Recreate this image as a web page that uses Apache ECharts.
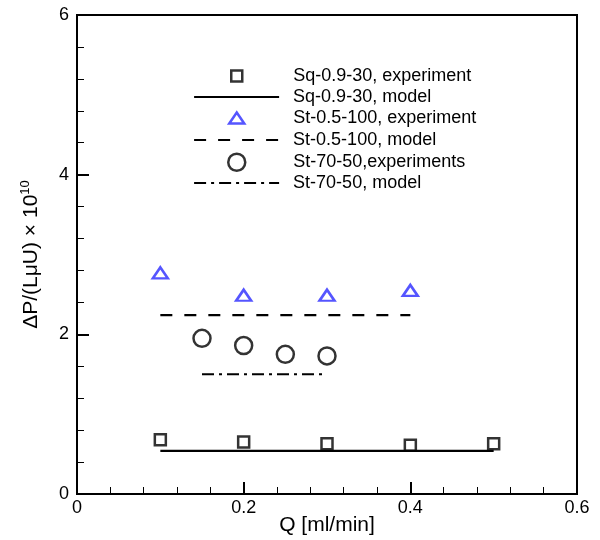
<!DOCTYPE html>
<html>
<head>
<meta charset="utf-8">
<script src="https://cdn.jsdelivr.net/npm/echarts@6/dist/echarts.min.js"></script>
<style>
  html, body { margin: 0; background: #fff; }
  #main { width: 600px; height: 540px; }
</style>
</head>
<body>
<div id="main"></div>
<script>
// values
const sqX = [0.1, 0.2, 0.3, 0.4, 0.5]
const sqY = [0.68, 0.65, 0.63, 0.61, 0.63]
const sqModelX = [0.1, 0.5]
const sqModelY = [0.54, 0.54]
const stX = [0.1, 0.2, 0.3, 0.4]
const stY = [2.77, 2.49, 2.49, 2.55]
const stModelX = [0.1, 0.4]
const stModelY = [2.24, 2.24]
const st70X = [0.15, 0.2, 0.25, 0.3]
const st70Y = [1.95, 1.86, 1.75, 1.73]
const st70ModelX = [0.15, 0.3]
const st70ModelY = [1.5, 1.5]
const names = [
    'Sq-0.9-30, experiment',
    'Sq-0.9-30, model',
    'St-0.5-100, experiment',
    'St-0.5-100, model',
    'St-70-50,experiments',
    'St-70-50, model'
]

const FONT = '"Liberation Sans", Arial, sans-serif'
const BLUE = '#2a2aff'
const LW = 2.5

function pts(xs, ys) {
    return xs.map((x, i) => [x, ys[i]])
}

// legend: one small legend per row so each icon sits where it does in the picture
const rowY = [76, 97, 118, 140, 162, 183]
const iconMid = 236.5
const textX = 293
const rows = [
    { w: 11, h: 11, sym: true, stroke: '#000' },
    { w: 85, h: 14, dash: 'solid' },
    { w: 15, h: 11, sym: true, stroke: BLUE },
    { w: 85, h: 14, dash: [12, 12] },
    { w: 17, h: 17, sym: true, stroke: '#000' },
    { w: 85, h: 14, dash: [12, 5, 3, 5] }
]
let legends = rows.map((r, i) => {
    let left, pad, item
    if (r.sym) {
        left = iconMid - r.w / 2 - 1
        pad = textX - (iconMid + r.w / 2 + 5)
        item = {
            name: names[i],
            itemStyle: { color: 'transparent', borderColor: r.stroke, borderWidth: LW }
        }
    } else {
        left = 193
        pad = textX - (194 + r.w + 5)
        item = {
            name: names[i],
            itemStyle: { color: 'transparent', borderWidth: 0, opacity: 0 },
            lineStyle: { color: '#000', width: 2.2, type: r.dash }
        }
    }
    return {
        data: [item],
        left: left,
        top: rowY[i] - Math.max(r.h + 2, 18) / 2,
        padding: 0,
        itemWidth: r.w,
        itemHeight: r.h,
        selectedMode: false,
        textStyle: {
            fontFamily: FONT, fontSize: 18, lineHeight: 18, color: '#000',
            padding: [0, 0, 0, pad]
        }
    }
})

var myChart = echarts.init(document.getElementById('main'))
var option = {
    animation: false,
    backgroundColor: '#fff',
    legend: legends,
    grid: {
        left: 77, right: 23, top: 15, bottom: 46,
        outerBoundsMode: 'none',
        show: true, borderColor: '#000', borderWidth: 2
    },
    xAxis: {
        type: 'value',
        min: 0, max: 0.6, interval: 0.2,
        name: 'Q [ml/min]',
        nameLocation: 'middle',
        nameGap: 21,
        nameMoveOverlap: false,
        nameTextStyle: { fontFamily: FONT, fontSize: 21, color: '#000' },
        axisLine: { lineStyle: { color: '#000', width: 2 } },
        axisTick: { inside: true, length: 12, lineStyle: { color: '#000', width: 2 } },
        minorTick: { show: true, splitNumber: 5, length: 7, lineStyle: { color: '#000', width: 1 } },
        axisLabel: { fontFamily: FONT, fontSize: 18, color: '#000', margin: 5 },
        splitLine: { show: false }
    },
    yAxis: {
        type: 'value',
        min: 0, max: 6, interval: 2,
        name: '{a|ΔP/(LμU) × 10}{s|10}',
        nameLocation: 'middle',
        nameGap: 34,
        nameMoveOverlap: false,
        nameTextStyle: {
            fontFamily: FONT, color: '#000',
            rich: {
                a: { fontFamily: FONT, fontSize: 21, lineHeight: 24, color: '#000' },
                s: { fontFamily: FONT, fontSize: 13, lineHeight: 24, verticalAlign: 'top', color: '#000' }
            }
        },
        axisLine: { lineStyle: { color: '#000', width: 2 } },
        axisTick: { inside: true, length: 12, lineStyle: { color: '#000', width: 2 } },
        minorTick: { show: true, splitNumber: 5, length: 7, lineStyle: { color: '#000', width: 1 } },
        axisLabel: { fontFamily: FONT, fontSize: 18, color: '#000', margin: 8 },
        splitLine: { show: false }
    },
    series: [
        {
            name: names[0], type: 'scatter', symbol: 'rect', symbolSize: 11,
            itemStyle: { color: 'transparent', borderColor: '#000', borderWidth: LW },
            data: pts(sqX, sqY)
        },
        {
            name: names[1], type: 'line', showSymbol: false, symbol: 'none',
            lineStyle: { color: '#000', width: 2.2, type: 'solid' },
            data: pts(sqModelX, sqModelY)
        },
        {
            name: names[2], type: 'scatter', symbol: 'triangle', symbolSize: [15, 11],
            itemStyle: { color: 'transparent', borderColor: BLUE, borderWidth: LW },
            data: pts(stX, stY)
        },
        {
            name: names[3], type: 'line', showSymbol: false, symbol: 'none',
            lineStyle: { color: '#000', width: 2.2, type: [12, 12] },
            data: pts(stModelX, stModelY)
        },
        {
            name: names[4], type: 'scatter', symbol: 'circle', symbolSize: 17,
            itemStyle: { color: 'transparent', borderColor: '#000', borderWidth: LW },
            data: pts(st70X, st70Y)
        },
        {
            name: names[5], type: 'line', showSymbol: false, symbol: 'none',
            lineStyle: { color: '#000', width: 2.2, type: [12, 5, 3, 5] },
            data: pts(st70ModelX, st70ModelY)
        }
    ]
}
myChart.setOption(option)
</script>
</body>
</html>
